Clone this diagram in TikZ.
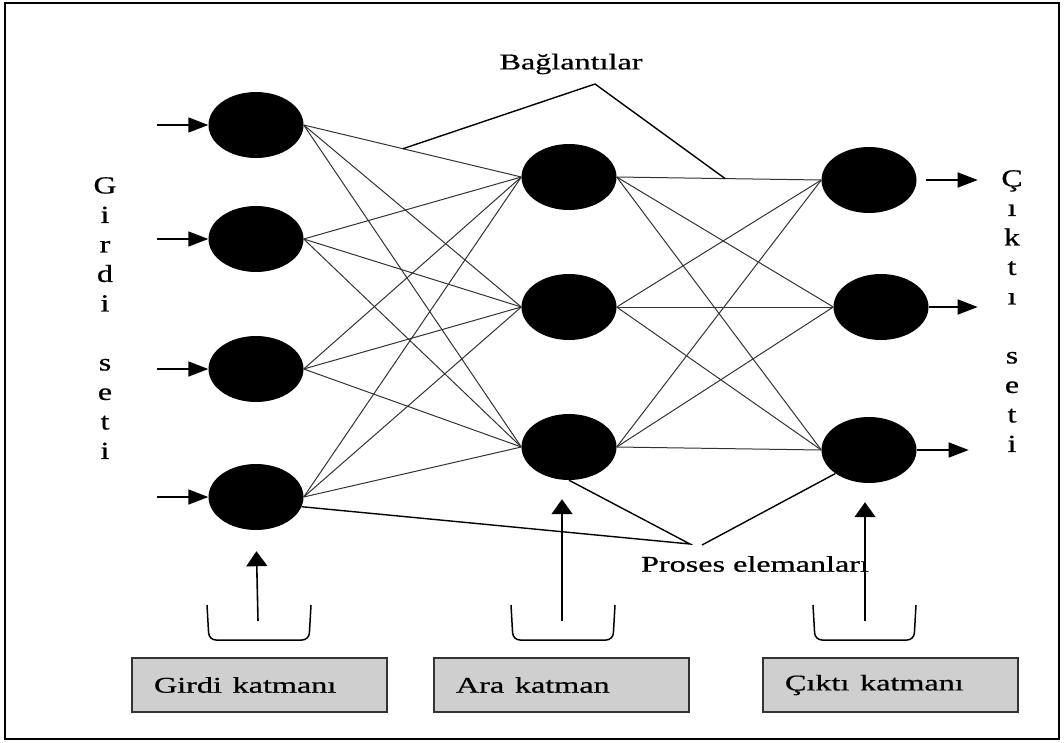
\documentclass[tikz,border=0pt]{standalone}
\usepackage{fontspec}
\setmainfont{Liberation Serif}[FakeBold=0.6]
\usepackage{graphicx}
\usetikzlibrary{shapes.geometric,arrows.meta,positioning,calc}

\newcommand{\wide}[1]{\scalebox{1.43}[1]{#1}}
\newcommand{\tall}[1]{\scalebox{1.3}[1]{#1}}

\tikzset{
  neuron/.style={ellipse, fill=black, minimum width=95pt, minimum height=66pt, inner sep=0pt},
  conn/.style={draw=black!80, line width=1pt},
  pointer/.style={line width=1.4pt},
  harrow/.style={line width=1.6pt, -{Triangle[length=20pt,width=15pt]}},
  varrow/.style={line width=1.6pt, -{Triangle[length=15pt,width=21pt]}},
  bracket/.style={line width=1.5pt, rounded corners=7pt},
  layerbox/.style={draw=black!80, line width=1.8pt, fill=black!19, minimum width=255pt, minimum height=54pt,
    inner xsep=22pt, text width=211pt, align=left, font=\fontsize{22.5}{26}\selectfont},
  tagtext/.style={font=\fontsize{22.5}{26}\selectfont, inner sep=0pt},
  lettercol/.style={font=\fontsize{24.5}{29.5}\selectfont, align=center, inner sep=0pt, anchor=north},
}

\begin{document}
\begin{tikzpicture}[x=1pt, y=-1pt, on grid, node distance=130pt]
\useasboundingbox (0,0) rectangle (1064,742);
\draw[line width=2.6pt] (5,3) rectangle (1059,739);

% girdi katmani
\node[neuron] (I1) at (256,125) {};
\node[neuron, below=114pt of I1] (I2) {};
\node[neuron, below=of I2] (I3) {};
\node[neuron, below=128pt of I3] (I4) {};

% ara katman
\node[neuron] (H1) at (569,177) {};
\node[neuron, below=of H1] (H2) {};
\node[neuron, below=140pt of H2] (H3) {};

% cikti katmani
\node[neuron] (O1) at (869,180) {};
\node[neuron, below=127pt of O1, xshift=12pt] (O2) {};
\node[neuron, below=143pt of O2, xshift=-12pt] (O3) {};

% baglantilar
\path[conn] (I1.east) edge (H1.west) edge (H2.west) edge (H3.west);
\path[conn] (I2.east) edge (H1.west) edge (H2.west) edge (H3.west);
\path[conn] (I3.east) edge (H1.west) edge (H2.west) edge (H3.west);
\path[conn] (I4.east) edge (H1.west) edge (H2.west) edge (H3.west);
\path[conn] (H1.east) edge (O1.west) edge (O2.west) edge (O3.west);
\path[conn] (H2.east) edge (O1.west) edge (O2.west) edge (O3.west);
\path[conn] (H3.east) edge (O1.west) edge (O2.west) edge (O3.west);

% girdi ve cikti oklari
\coordinate[left=51pt of I1.west] (in1);
\coordinate[left=51pt of I2.west] (in2);
\coordinate[left=51pt of I3.west] (in3);
\coordinate[left=51pt of I4.west] (in4);
\draw[harrow] (in1) -- (I1.west);
\draw[harrow] (in2) -- (I2.west);
\draw[harrow] (in3) -- (I3.west);
\draw[harrow] (in4) -- (I4.west);
\coordinate[right=61pt of O1.east] (out1);
\coordinate[right=49pt of O2.east] (out2);
\coordinate[right=52pt of O3.east] (out3);
\draw[harrow, shorten <=9pt] (O1.east) -- (out1);
\draw[harrow] (O2.east) -- (out2);
\draw[harrow] (O3.east) -- (out3);

\node[lettercol] (girdiseti) at (105,177)
  {\tall{G}\\\tall{i}\\\tall{r}\\\tall{d}\\\tall{i}\\[29.5pt]\tall{s}\\\tall{e}\\\tall{t}\\\tall{i}};
\node[lettercol] (ciktiseti) at (1012,170)
  {\tall{Ç}\\\tall{ı}\\\tall{k}\\\tall{t}\\\tall{ı}\\[29.5pt]\tall{s}\\\tall{e}\\\tall{t}\\\tall{i}};

% etiketler
\node[tagtext] (baglanti) at (571,64) {\wide{Bağlantılar}};
\coordinate (bag) at (595,84);
\coordinate (bagL) at ($(I1.east)!.456!(H1.west)$);
\coordinate (bagR) at ($(H1.east)!.53!(O1.west)$);
\draw[pointer] (bagL) -- (bag) -- (bagR);

\node[tagtext] (proses) at (755,564) {\wide{Proses elemanları}};
\coordinate (peL) at (690,544);
\coordinate (peR) at (702,545);
\draw[pointer] (I4.-12) -- (peL) -- (H3.south);
\draw[pointer] (peR) -- (O3.215);

% katman oklari
\coordinate (inbase) at (258,621);
\coordinate (hidbase) at (562,621);
\coordinate (outbase) at (865,621);
\draw[bracket] (207,605) -- (209,640) -- (309,640) -- (311,605);
\draw[bracket] (511,605) -- (513,640) -- (613,640) -- (615,605);
\draw[bracket] (813,605) -- (815,640) -- (914,640) -- (916,605);
\draw[varrow, shorten >=21pt] (inbase) -- (I4.south);
\draw[varrow, shorten >=19pt] (hidbase) -- (hidbase |- H3.south);
\draw[varrow, shorten >=19pt] (outbase) -- (outbase |- O3.south);

\node[layerbox] (girdibox) at (259.5,685) {\wide{Girdi katmanı}};
\node[layerbox, right=302pt of girdibox] (arabox) {\wide{Ara katman}};
\node[layerbox, right=329pt of arabox] (ciktibox) {\wide{Çıktı katmanı}};
\end{tikzpicture}
\end{document}
